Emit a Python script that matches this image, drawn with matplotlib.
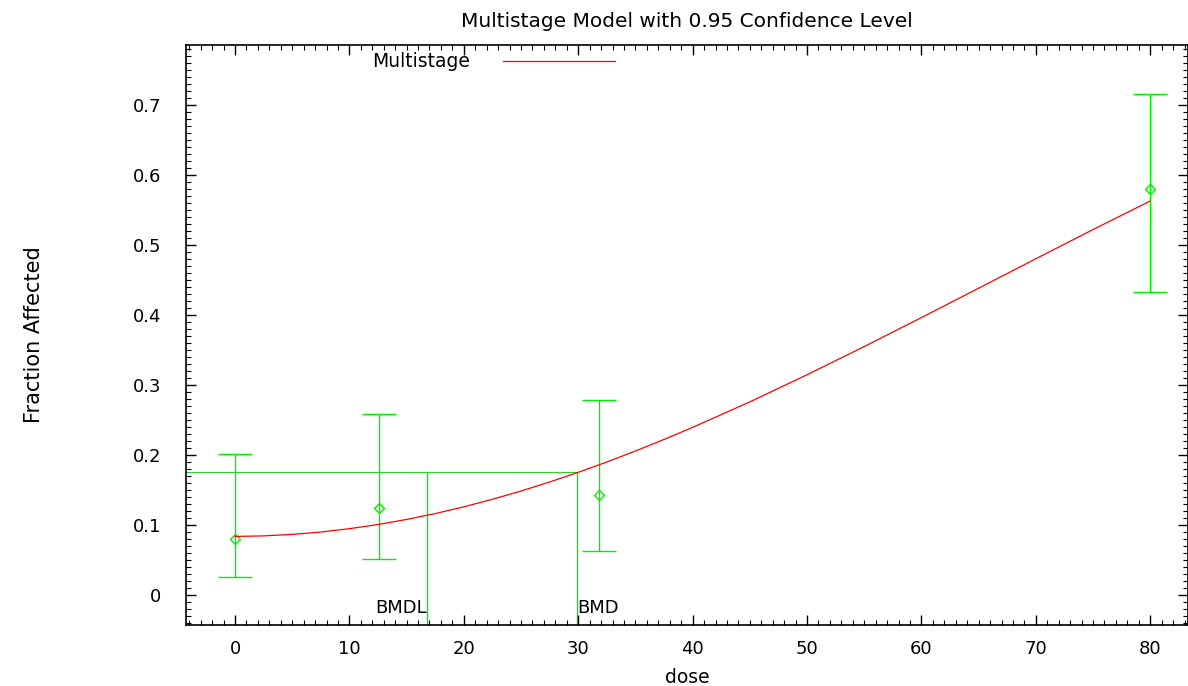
import matplotlib
matplotlib.use("Agg")
import matplotlib.pyplot as plt
from matplotlib.ticker import MultipleLocator

plt.rcParams['font.family'] = ['DejaVu Sans']

# observed response with 95% confidence limits
dose = [0, 12.6, 31.8, 80]
frac = [0.080, 0.124, 0.143, 0.580]
lower = [0.026, 0.051, 0.063, 0.433]
upper = [0.201, 0.259, 0.279, 0.716]

# fitted multistage curve
fit_dose = [0, 2.5, 5, 7.5, 10, 12.5, 15, 17.5, 20, 22.5, 25, 27.5, 30, 32.5, 35, 37.5,
            40, 45, 50, 55, 60, 65, 70, 75, 80]
fit_frac = [0.0836, 0.0844, 0.0865, 0.0899, 0.0947, 0.1006, 0.1079, 0.1163, 0.1259,
            0.1367, 0.1485, 0.1614, 0.1752, 0.1900, 0.2057, 0.2222, 0.2395, 0.2759,
            0.3147, 0.3550, 0.3964, 0.4384, 0.4805, 0.5222, 0.5630]

bmr_level = 0.175
bmd = 29.9
bmdl = 16.8

fig = plt.figure(figsize=(11.88, 6.86), dpi=100)
ax = fig.add_axes([0.1566, 0.0889, 0.8434, 0.8455])

xmin, xmax = -4.28, 83.3
ymin, ymax = -0.043, 0.786

ax.plot(fit_dose, fit_frac, color='red', lw=0.9, label='Multistage', zorder=3)

yerr = [[f - l for f, l in zip(frac, lower)], [u - f for f, u in zip(frac, upper)]]
ax.errorbar(dose, frac, yerr=yerr, fmt='D', color='#00ee00', mfc='none', mec='#00ee00',
            ms=5, mew=1.0, elinewidth=1.0, capsize=12, capthick=1.0, zorder=2)

# benchmark dose lines
ax.plot([xmin, bmd], [bmr_level, bmr_level], color='#33cc33', lw=0.8, zorder=1)
ax.plot([bmdl, bmdl], [ymin, bmr_level], color='#00ee00', lw=1.0, zorder=1)
ax.plot([bmd, bmd], [ymin, bmr_level], color='#00ee00', lw=1.0, zorder=1)
ax.text(bmdl, -0.019, 'BMDL', ha='right', va='center', fontsize=13)
ax.text(bmd, -0.019, 'BMD', ha='left', va='center', fontsize=13)

ax.set_xlim(xmin, xmax)
ax.set_ylim(ymin, ymax)
ax.xaxis.set_minor_locator(MultipleLocator(1))
ax.yaxis.set_minor_locator(MultipleLocator(0.01))
ax.set_xticks([0, 10, 20, 30, 40, 50, 60, 70, 80])
ax.set_yticks([0, 0.1, 0.2, 0.3, 0.4, 0.5, 0.6, 0.7])
ax.set_yticklabels(['0', '0.1', '0.2', '0.3', '0.4', '0.5', '0.6', '0.7'])
ax.tick_params(which='both', direction='in', top=True, right=True, labelsize=13)
ax.tick_params(which='major', length=7, width=1)
ax.tick_params(which='minor', length=3.5, width=0.8)
ax.tick_params(axis='x', pad=11)
ax.tick_params(axis='y', pad=18)
for s in ax.spines.values():
    s.set_linewidth(1.2)

ax.set_title('Multistage Model with 0.95 Confidence Level', fontsize=14.5, pad=13)
ax.set_xlabel('dose', fontsize=13.5, labelpad=7)
ax.set_ylabel('Fraction Affected', fontsize=15, labelpad=64)

ax.legend(loc='center left', bbox_to_anchor=(0.1856, 0.9707), frameon=False, markerfirst=False,
          handlelength=6.0, fontsize=13.5, handletextpad=1.75, borderpad=0, borderaxespad=0)

fig.savefig('out.png', dpi=100)
